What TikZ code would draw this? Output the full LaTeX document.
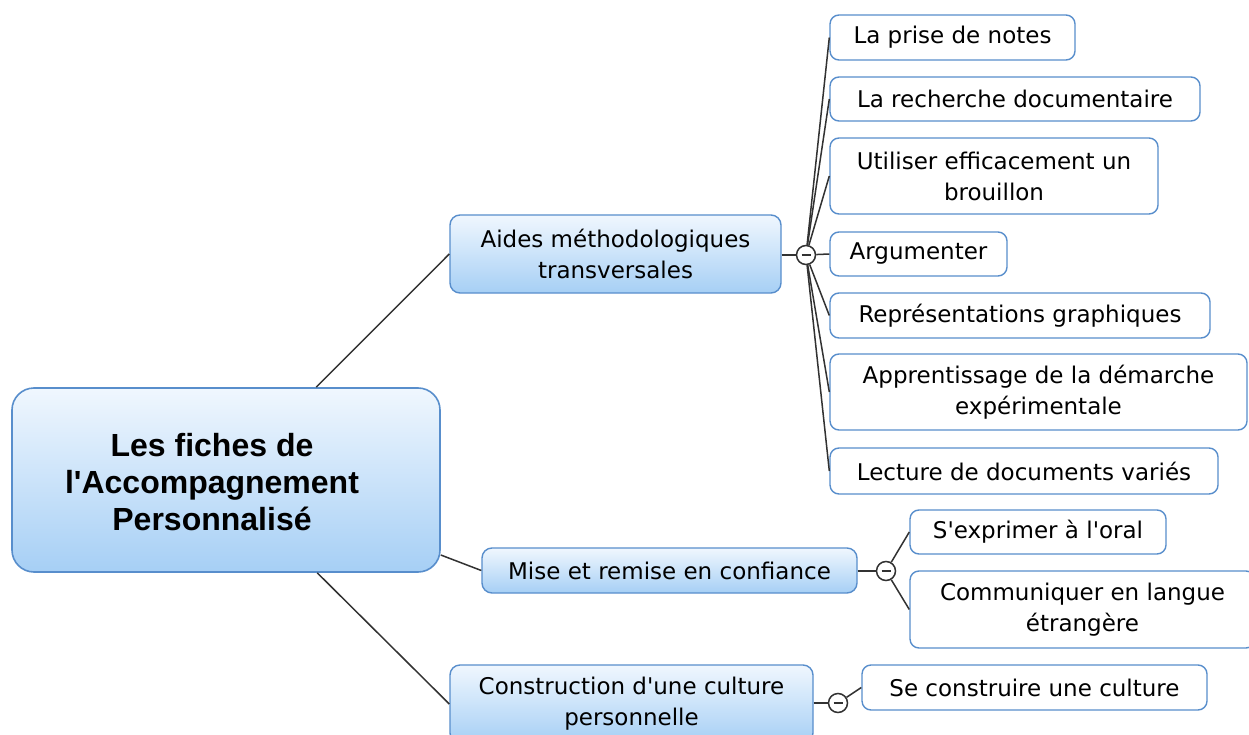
\documentclass[tikz,border=0pt]{standalone}
\usepackage{fontspec}
\newfontfamily\lblfont{DejaVu Sans}
\newfontfamily\rootfont{Liberation Sans}
\usetikzlibrary{calc}
\definecolor{cborder}{RGB}{88,142,204}
\definecolor{ctop}{RGB}{240,247,254}
\definecolor{cbot}{RGB}{166,207,245}
\definecolor{cline}{RGB}{50,50,50}
\tikzset{
  lbl/.style={font=\lblfont\fontsize{23}{31}\selectfont},
  childbox/.style={draw=cborder, line width=1.4pt, fill=white, rounded corners=9pt,
    inner sep=0pt, align=center, lbl},
  topicbox/.style={draw=cborder, line width=1.4pt, top color=ctop, bottom color=cbot,
    rounded corners=10pt, inner sep=0pt, align=center, lbl},
  rootbox/.style={draw=cborder, line width=1.6pt, top color=ctop, bottom color=cbot,
    rounded corners=22pt, inner sep=0pt},
  toggle/.style={circle, draw=cline, line width=1.5pt, fill=white, minimum size=19pt, inner sep=0pt,
    path picture={\draw[line width=2pt] ([xshift=-4.5pt]path picture bounding box.center) -- ([xshift=4.5pt]path picture bounding box.center);}},
  conn/.style={draw=cline, line width=1.5pt}
}
\begin{document}
\begin{tikzpicture}[x=1pt,y=-1pt]
\clip (0,0) rectangle (1249,735);
\fill[white] (0,0) rectangle (1249,735);

% root
\node[rootbox, minimum width=428pt, minimum height=184pt] (root) at (226,480) {};
\node[font=\rootfont\bfseries\fontsize{32}{37}\selectfont, align=center] (roottext) at (212,482)
  {Les fiches de\\l'Accompagnement\\Personnalisé};

% main topics
\node[topicbox, minimum width=331pt, minimum height=78pt] (aides) at (615.5,254) {Aides méthodologiques\\transversales};
\node[topicbox, minimum width=375pt, minimum height=45pt] (mise) at (669.5,570.5) {Mise et remise en confiance};
\node[topicbox, minimum width=363pt, minimum height=78pt] (constr) at (631.5,704) {Construction d'une culture\\personnelle};

% toggles
\node[toggle] (tA) at (806,255) {};
\node[toggle] (tM) at (886,571) {};
\node[toggle] (tC) at (838,703) {};

% children of aides
\node[childbox, minimum width=245pt, minimum height=45pt] (n1) at (952.5,37.5) {La prise de notes};
\node[childbox, minimum width=370pt, minimum height=44pt] (n2) at (1015,99) {La recherche documentaire};
\node[childbox, minimum width=328pt, minimum height=76pt] (n3) at (994,176) {Utiliser efficacement un\\brouillon};
\node[childbox, minimum width=177pt, minimum height=44pt] (n4) at (918.5,254) {Argumenter};
\node[childbox, minimum width=380pt, minimum height=45pt] (n5) at (1020,315.5) {Représentations graphiques};
\node[childbox, minimum width=417pt, minimum height=76pt] (n6) at (1038.5,392) {Apprentissage de la démarche\\expérimentale};
\node[childbox, minimum width=388pt, minimum height=46pt] (n7) at (1024,471) {Lecture de documents variés};

% children of mise
\node[childbox, minimum width=256pt, minimum height=44pt] (m1) at (1038,532) {S'exprimer à l'oral};
\node[childbox, minimum width=345pt, minimum height=77pt] (m2) at (1082.5,609.5) {Communiquer en langue\\étrangère};

% child of construction
\node[childbox, minimum width=345pt, minimum height=45pt] (c1) at (1034.5,687.5) {Se construire une culture};

% connectors root -> topics
\draw[conn] ([xshift=305pt]root.north west) -- (aides.west);
\draw[conn] ([yshift=-75pt]root.east) -- (mise.west);
\draw[conn] ([xshift=306pt]root.south west) -- (constr.west);

% topic -> toggle
\draw[conn] (aides.east |- tA) -- (tA);
\draw[conn] (mise.east |- tM) -- (tM);
\draw[conn] (constr.east |- tC) -- (tC);

% toggle -> children
\foreach \c in {n1,n2,n3,n4,n5,n6,n7} {\draw[conn] (tA) -- (\c.west);}
\foreach \c in {m1,m2} {\draw[conn] (tM) -- (\c.west);}
\draw[conn] (tC) -- (c1.west);

\end{tikzpicture}
\end{document}
